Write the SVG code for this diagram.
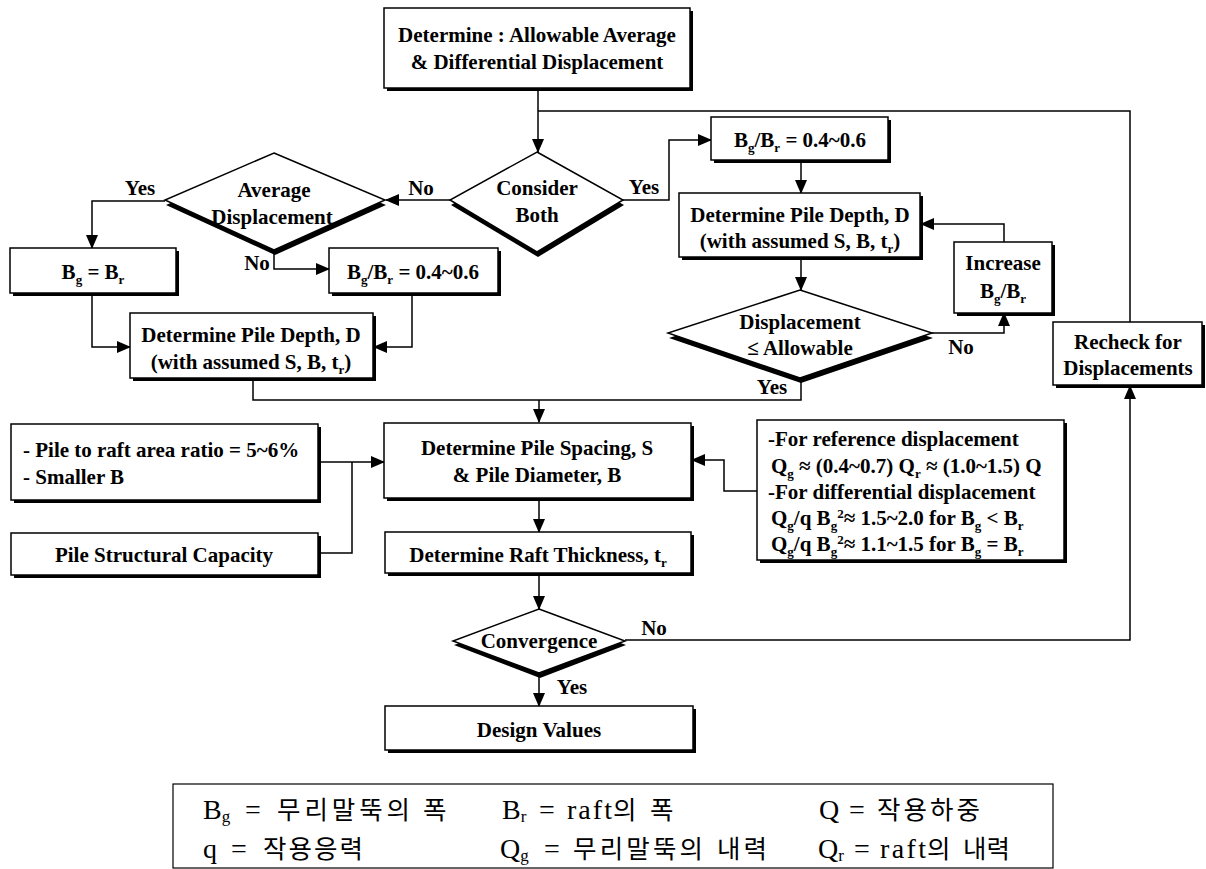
<svg xmlns="http://www.w3.org/2000/svg" width="1206" height="869" viewBox="0 0 1206 869">
<style>
.bx{fill:#fff;stroke:#000;stroke-width:1.5}
.sh{fill:#000}
.t{font-family:"Liberation Serif","Times New Roman",serif;font-size:21px;font-weight:bold;fill:#000}
.c{text-anchor:middle}
.ln{fill:none;stroke:#000;stroke-width:1.5}
.lg{font-family:"Liberation Serif","Noto Sans CJK KR",serif;font-size:28px;fill:#000}
.ko{font-family:"Noto Sans CJK KR",sans-serif;font-size:25.5px;fill:#000}
</style>
<defs>
<marker id="ah" markerUnits="userSpaceOnUse" markerWidth="14" markerHeight="12" viewBox="0 0 14 12" refX="13" refY="6" orient="auto">
<path d="M0,0 L14,6 L0,12 Z" fill="#000"/>
</marker>
</defs>

<g id="connectors">
<path class="ln" d="M538,90 V152" marker-end="url(#ah)"/>
<path class="ln" d="M538,111 H1130 V322"/>
<path class="ln" d="M450,200 H386" marker-end="url(#ah)"/>
<path class="ln" d="M165,201 H92 V248" marker-end="url(#ah)"/>
<path class="ln" d="M274,250 V269 H329" marker-end="url(#ah)"/>
<path class="ln" d="M92,295 V347 H130" marker-end="url(#ah)"/>
<path class="ln" d="M412,295 V347 H374" marker-end="url(#ah)"/>
<path class="ln" d="M801,378 V400 H253 V378"/>
<path class="ln" d="M539,400 V422" marker-end="url(#ah)"/>
<path class="ln" d="M623,200 H669 V140 H711" marker-end="url(#ah)"/>
<path class="ln" d="M801,160 V193" marker-end="url(#ah)"/>
<path class="ln" d="M801,257 V290" marker-end="url(#ah)"/>
<path class="ln" d="M932,333 H1004 V313" marker-end="url(#ah)"/>
<path class="ln" d="M1004,242 V224 H921" marker-end="url(#ah)"/>
<path class="ln" d="M318,462 H384" marker-end="url(#ah)"/>
<path class="ln" d="M318,553 H352 V462"/>
<path class="ln" d="M757,491 H724 V460 H692" marker-end="url(#ah)"/>
<path class="ln" d="M539,498 V532" marker-end="url(#ah)"/>
<path class="ln" d="M539,575 V609" marker-end="url(#ah)"/>
<path class="ln" d="M625,640 H1130 V386" marker-end="url(#ah)"/>
<path class="ln" d="M539,673 V706" marker-end="url(#ah)"/>
<text class="t c" x="421" y="195">No</text>
<text class="t c" x="140" y="195">Yes</text>
<text class="t c" x="257" y="270">No</text>
<text class="t c" x="644" y="194">Yes</text>
<text class="t c" x="961" y="354">No</text>
<text class="t c" x="772" y="394">Yes</text>
<text class="t c" x="654" y="635">No</text>
<text class="t c" x="572" y="694">Yes</text>
</g>

<g id="top">
<rect class="sh" x="387" y="11" width="306" height="80"/>
<rect class="bx" x="384" y="8" width="306" height="80"/>
<text class="t c" x="537" y="42">Determine : Allowable Average</text>
<text class="t c" x="537" y="69">&amp; Differential Displacement</text>
</g>

<g id="consider">
<polygon class="sh" points="538,157 624,205 538,257 451,205"/>
<polygon class="bx" points="537,152 623,200 537,252 450,200"/>
<text class="t c" x="537" y="195">Consider</text>
<text class="t c" x="537" y="222">Both</text>
</g>

<g id="average">
<polygon class="sh" points="275,158 386,205 275,255 166,205"/>
<polygon class="bx" points="274,153 385,200 274,250 165,200"/>
<text class="t c" x="274" y="197">Average</text>
<text class="t c" x="272" y="224">Displacement</text>
</g>

<g id="bg-eq-br">
<rect class="sh" x="13" y="251" width="166" height="45"/>
<rect class="bx" x="10" y="248" width="166" height="45"/>
<text class="t c" x="93" y="279">B<tspan font-size="13" dy="5">g</tspan><tspan dy="-5"> = B</tspan><tspan font-size="13" dy="5">r</tspan></text>
</g>

<g id="bg-br-left">
<rect class="sh" x="332" y="251" width="169" height="45"/>
<rect class="bx" x="329" y="248" width="169" height="45"/>
<text class="t c" x="413" y="279">B<tspan font-size="13" dy="5">g</tspan><tspan dy="-5">/B</tspan><tspan font-size="13" dy="5">r</tspan><tspan dy="-5"> = 0.4~0.6</tspan></text>
</g>

<g id="depth-left">
<rect class="sh" x="133" y="316" width="243" height="65"/>
<rect class="bx" x="130" y="313" width="243" height="65"/>
<text class="t c" x="251" y="342">Determine Pile Depth, D</text>
<text class="t c" x="251" y="369">(with assumed S, B, t<tspan font-size="13" dy="5">r</tspan><tspan dy="-5">)</tspan></text>
</g>

<g id="bg-br-right">
<rect class="sh" x="714" y="120" width="177" height="43"/>
<rect class="bx" x="711" y="117" width="177" height="43"/>
<text class="t c" x="800" y="147">B<tspan font-size="13" dy="5">g</tspan><tspan dy="-5">/B</tspan><tspan font-size="13" dy="5">r</tspan><tspan dy="-5"> = 0.4~0.6</tspan></text>
</g>

<g id="depth-right">
<rect class="sh" x="682" y="196" width="241" height="64"/>
<rect class="bx" x="679" y="193" width="241" height="64"/>
<text class="t c" x="800" y="222">Determine Pile Depth, D</text>
<text class="t c" x="800" y="248">(with assumed S, B, t<tspan font-size="13" dy="5">r</tspan><tspan dy="-5">)</tspan></text>
</g>

<g id="increase">
<rect class="sh" x="957" y="245" width="98" height="71"/>
<rect class="bx" x="954" y="242" width="98" height="71"/>
<text class="t c" x="1003" y="270">Increase</text>
<text class="t c" x="1003" y="298">B<tspan font-size="13" dy="5">g</tspan><tspan dy="-5">/B</tspan><tspan font-size="13" dy="5">r</tspan></text>
</g>

<g id="displacement">
<polygon class="sh" points="801,295 933,338 801,383 669,338"/>
<polygon class="bx" points="800,290 932,333 800,378 668,333"/>
<text class="t c" x="800" y="329">Displacement</text>
<text class="t c" x="800" y="355">≤ Allowable</text>
</g>

<g id="recheck">
<rect class="sh" x="1056" y="325" width="149" height="63"/>
<rect class="bx" x="1053" y="322" width="149" height="63"/>
<text class="t c" x="1128" y="349">Recheck for</text>
<text class="t c" x="1128" y="375">Displacements</text>
</g>

<g id="pile-raft">
<rect class="sh" x="14" y="427" width="307" height="76"/>
<rect class="bx" x="11" y="424" width="307" height="76"/>
<text class="t" x="23" y="457">- Pile to raft area ratio = 5~6%</text>
<text class="t" x="23" y="484">- Smaller B</text>
</g>

<g id="structural">
<rect class="sh" x="14" y="536" width="307" height="42"/>
<rect class="bx" x="11" y="533" width="307" height="42"/>
<text class="t c" x="164" y="562">Pile Structural Capacity</text>
</g>

<g id="spacing">
<rect class="sh" x="387" y="426" width="307" height="75"/>
<rect class="bx" x="384" y="423" width="307" height="75"/>
<text class="t c" x="537" y="455">Determine Pile Spacing, S</text>
<text class="t c" x="537" y="482">&amp; Pile Diameter, B</text>
</g>

<g id="reference">
<rect class="sh" x="760" y="423" width="307" height="140"/>
<rect class="bx" x="757" y="420" width="307" height="140"/>
<text class="t" x="768" y="446">-For reference displacement</text>
<text class="t" x="771" y="473">Q<tspan font-size="13" dy="5">g</tspan><tspan dy="-5"> ≈ (0.4~0.7) Q</tspan><tspan font-size="13" dy="5">r</tspan><tspan dy="-5"> ≈ (1.0~1.5) Q</tspan></text>
<text class="t" x="768" y="499">-For differential displacement</text>
<text class="t" x="771" y="525">Q<tspan font-size="13" dy="5">g</tspan><tspan dy="-5">/q B</tspan><tspan font-size="13" dy="5">g</tspan><tspan font-size="13" dy="-12">2</tspan><tspan dy="7">≈ 1.5~2.0 for B</tspan><tspan font-size="13" dy="5">g</tspan><tspan dy="-5"> &lt; B</tspan><tspan font-size="13" dy="5">r</tspan></text>
<text class="t" x="771" y="551">Q<tspan font-size="13" dy="5">g</tspan><tspan dy="-5">/q B</tspan><tspan font-size="13" dy="5">g</tspan><tspan font-size="13" dy="-12">2</tspan><tspan dy="7">≈ 1.1~1.5 for B</tspan><tspan font-size="13" dy="5">g</tspan><tspan dy="-5"> = B</tspan><tspan font-size="13" dy="5">r</tspan></text>
</g>

<g id="raft">
<rect class="sh" x="388" y="535" width="306" height="41"/>
<rect class="bx" x="385" y="532" width="306" height="41"/>
<text class="t c" x="538" y="562">Determine Raft Thickness, t<tspan font-size="13" dy="5">r</tspan></text>
</g>

<g id="convergence">
<polygon class="sh" points="540,613 626,645 540,678 454,645"/>
<polygon class="bx" points="539,609 625,641 539,673 453,641"/>
<text class="t c" x="539" y="648">Convergence</text>
</g>

<g id="design">
<rect class="sh" x="388" y="709" width="308" height="44"/>
<rect class="bx" x="385" y="706" width="308" height="44"/>
<text class="t c" x="539" y="737">Design Values</text>
</g>

<g id="legend">
<rect x="173" y="784" width="880" height="84" fill="#fff" stroke="#000" stroke-width="1.2"/>
<text class="lg" x="203" y="819">B<tspan font-size="17" dy="3">g</tspan></text>
<text class="lg" x="245" y="819">=</text>
<text class="ko" x="277" y="819" textLength="133" lengthAdjust="spacing">무리말뚝의</text>
<text class="ko" x="423" y="819">폭</text>
<text class="lg" x="502" y="819">B<tspan font-size="17" dy="3">r</tspan></text>
<text class="lg" x="539" y="819">=</text>
<text class="lg" x="567" y="819" textLength="45" lengthAdjust="spacing">raft</text>
<text class="ko" x="613" y="819">의</text>
<text class="ko" x="650" y="819">폭</text>
<text class="lg" x="819" y="819">Q</text>
<text class="lg" x="849" y="819">=</text>
<text class="ko" x="877" y="819" textLength="103" lengthAdjust="spacing">작용하중</text>
<text class="lg" x="203" y="858">q</text>
<text class="lg" x="231" y="858">=</text>
<text class="ko" x="263" y="858" textLength="100" lengthAdjust="spacing">작용응력</text>
<text class="lg" x="500" y="858">Q<tspan font-size="17" dy="3">g</tspan></text>
<text class="lg" x="544" y="858">=</text>
<text class="ko" x="573" y="858" textLength="130" lengthAdjust="spacing">무리말뚝의</text>
<text class="ko" x="717" y="858" textLength="50" lengthAdjust="spacing">내력</text>
<text class="lg" x="818" y="858">Q<tspan font-size="17" dy="3">r</tspan></text>
<text class="lg" x="854" y="858">=</text>
<text class="lg" x="880" y="858" textLength="46" lengthAdjust="spacing">raft</text>
<text class="ko" x="927" y="858">의</text>
<text class="ko" x="963" y="858" textLength="47" lengthAdjust="spacing">내력</text>
</g>
</svg>
